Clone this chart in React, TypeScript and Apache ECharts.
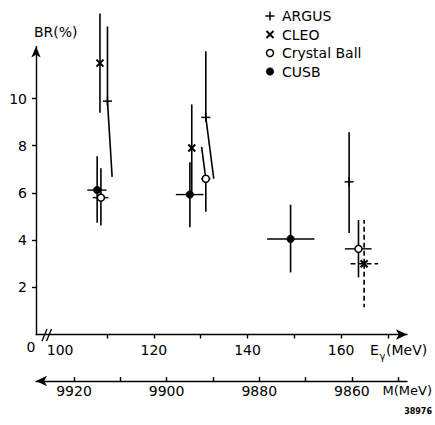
import React, { useEffect, useRef } from 'react';
import * as echarts from 'echarts';

const FONT = '"DejaVu Sans", "Liberation Sans", sans-serif';

// ---- axes ----
const eMin = 94.84;
const eMax = 174.06;
const eTickValues = [110, 120, 130, 140, 150, 160, 170];
const eLabelValues = [100, 120, 140, 160];
const mMin = 9848.1;
const mMax = 9928.2;
const mTickValues = [9920, 9910, 9900, 9890, 9880, 9870, 9860, 9850];
const mLabelValues = [9920, 9900, 9880, 9860];
const brMax = 12.2;
const brTickValues = [2, 4, 6, 8, 10];

// ---- ARGUS (+) ----
const argusE = [110.1, 131.1, 161.7];
const argusBR = [9.89, 9.2, 6.47];
const argusHi = [13.05, 12.0, 8.57];
const argusLo = [6.68, 6.6, 4.3];
const argusLoE = [111.1, 132.8, 161.7];

// ---- CLEO (x) ----
const cleoE = [108.5, 128.1, 164.9];
const cleoBR = [11.5, 7.9, 3.0];
const cleoHi = [13.6, 9.75, 4.85];
const cleoLo = [9.4, 6.05, 1.15];
const cleoXLo = [NaN, NaN, 162.0];
const cleoXHi = [NaN, NaN, 167.9];

// ---- Crystal Ball (o) ----
const cbE = [108.7, 131.1, 163.7];
const cbBR = [5.8, 6.6, 3.63];
const cbHi = [7.05, 7.95, 4.85];
const cbHiE = [108.7, 130.2, 163.7];
const cbLo = [4.62, 5.2, 2.42];
const cbXLo = [106.95, 130.1, 160.8];
const cbXHi = [110.3, 132.1, 166.5];

// ---- CUSB (filled) ----
const cusbE = [107.9, 127.7, 149.2];
const cusbBR = [6.12, 5.93, 4.05];
const cusbHi = [7.55, 7.3, 5.5];
const cusbLo = [4.74, 4.55, 2.63];
const cusbXLo = [105.8, 124.7, 144.2];
const cusbXHi = [109.9, 130.6, 154.3];

const legendNames = ['ARGUS', 'CLEO', 'Crystal Ball', 'CUSB'];

function buildRows(
  E: number[], BR: number[], lo: number[], hi: number[],
  loE?: number[], hiE?: number[], xlo?: number[], xhi?: number[]
) {
  return E.map((e, i) => [
    e, BR[i], lo[i], hi[i],
    loE ? loE[i] : e,
    hiE ? hiE[i] : e,
    xlo ? xlo[i] : NaN,
    xhi ? xhi[i] : NaN,
  ]);
}

function marker(kind: string, x: number, y: number): any[] {
  const st = { stroke: '#000', lineWidth: 1.5 };
  if (kind === 'plus') {
    return [
      { type: 'line', shape: { x1: x - 4.5, y1: y, x2: x + 4.5, y2: y }, style: st },
      { type: 'line', shape: { x1: x, y1: y - 4.5, x2: x, y2: y + 4.5 }, style: st },
    ];
  }
  if (kind === 'cross') {
    const s = { stroke: '#000', lineWidth: 2 };
    return [
      { type: 'line', shape: { x1: x - 3.5, y1: y - 3.5, x2: x + 3.5, y2: y + 3.5 }, style: s },
      { type: 'line', shape: { x1: x - 3.5, y1: y + 3.5, x2: x + 3.5, y2: y - 3.5 }, style: s },
    ];
  }
  if (kind === 'open') {
    return [{ type: 'circle', shape: { cx: x, cy: y, r: 3.5 }, style: { fill: '#fff', stroke: '#000', lineWidth: 1.5 } }];
  }
  return [{ type: 'circle', shape: { cx: x, cy: y, r: 3.8 }, style: { fill: '#000', stroke: '#000', lineWidth: 0.5 } }];
}

function makeRender(kind: string, dashedIdx: number[]) {
  return (params: any, api: any) => {
    const e = api.value(0);
    const br = api.value(1);
    const lo = api.value(2);
    const hi = api.value(3);
    const loE = api.value(4);
    const hiE = api.value(5);
    const xlo = api.value(6);
    const xhi = api.value(7);
    const p = api.coord([e, br]);
    const pt = api.coord([hiE, hi]);
    const pb = api.coord([loE, lo]);
    const dashed = dashedIdx.indexOf(params.dataIndex) >= 0;
    const ls: any = { stroke: '#000', lineWidth: 1.6 };
    if (dashed) ls.lineDash = [5, 3];
    const children: any[] = [
      { type: 'line', shape: { x1: p[0], y1: p[1], x2: pt[0], y2: pt[1] }, style: ls },
      { type: 'line', shape: { x1: p[0], y1: p[1], x2: pb[0], y2: pb[1] }, style: ls },
    ];
    if (isFinite(xlo) && isFinite(xhi)) {
      const a = api.coord([xlo, br]);
      const b = api.coord([xhi, br]);
      const hs: any = { stroke: '#000', lineWidth: 1.4 };
      if (dashed) hs.lineDash = [5, 3];
      children.push({ type: 'line', shape: { x1: a[0], y1: a[1], x2: b[0], y2: b[1] }, style: hs });
    }
    children.push(...marker(kind, p[0], p[1]));
    return { type: 'group', children };
  };
}

const DIMS = ['E', 'BR', 'lo', 'hi', 'loE', 'hiE', 'xlo', 'xhi'];

function customSeries(name: string, kind: string, data: any[], dashedIdx: number[] = []) {
  return {
    type: 'custom',
    name,
    dimensions: DIMS,
    encode: { x: 0, y: 1 },
    clip: false,
    renderItem: makeRender(kind, dashedIdx),
    data,
  };
}

function txt(text: string, x: number, y: number, size: number, align = 'left', extra: any = {}) {
  return {
    type: 'text',
    x,
    y,
    style: {
      text,
      fontSize: size,
      fontFamily: FONT,
      fill: '#000',
      align,
      verticalAlign: 'middle',
      ...extra,
    },
  };
}

export default function App() {
  const ref = useRef<HTMLDivElement>(null);
  useEffect(() => {
    if (!ref.current) return;
    const chart = echarts.init(ref.current, null, { renderer: 'svg' });
    const axisLineStyle = { color: '#000', width: 1.4 };
    const legendKinds = ['plus', 'cross', 'open', 'filled'];
    const legendY = [16, 34.5, 53, 71.5];
    const legendGraphics: any[] = [];
    legendNames.forEach((n, i) => {
      legendGraphics.push(...marker(legendKinds[i], 270, legendY[i]));
      legendGraphics.push(txt(n, 282, legendY[i], 14));
    });

    const option: any = {
      animation: false,
      backgroundColor: '#fff',
      textStyle: { fontFamily: FONT, color: '#000' },
      grid: { left: 36, right: 28, top: 46.6, bottom: 90.5, containLabel: false, outerBoundsMode: 'none' },
      xAxis: [
        {
          type: 'value',
          min: eMin,
          max: eMax,
          position: 'bottom',
          axisLine: { show: true, onZero: false, lineStyle: axisLineStyle, symbol: ['none', 'arrow'], symbolSize: [8, 11] },
          axisTick: { show: true, customValues: eTickValues, length: 4, lineStyle: { color: '#000', width: 1.4 } },
          axisLabel: {
            show: true,
            customValues: eLabelValues,
            margin: 8,
            fontSize: 14,
            fontFamily: FONT,
            color: '#000',
          },
          splitLine: { show: false },
        },
        {
          type: 'value',
          min: -mMax,
          max: -mMin,
          position: 'bottom',
          offset: 46.5,
          axisLine: { show: true, onZero: false, lineStyle: axisLineStyle, symbol: ['arrow', 'none'], symbolSize: [8, 11] },
          axisTick: { show: true, customValues: mTickValues.map((v) => -v), length: 4, inside: true, lineStyle: { color: '#000', width: 1.4 } },
          axisLabel: {
            show: true,
            customValues: mLabelValues.map((v) => -v),
            formatter: (v: number) => String(-v),
            margin: 3,
            fontSize: 14,
            fontFamily: FONT,
            color: '#000',
          },
          splitLine: { show: false },
        },
      ],
      yAxis: {
        type: 'value',
        min: 0,
        max: brMax,
        axisLine: { show: true, onZero: false, lineStyle: axisLineStyle, symbol: ['none', 'arrow'], symbolSize: [7, 11] },
        axisTick: { show: true, customValues: brTickValues, length: 4, lineStyle: { color: '#000', width: 1.4 } },
        axisLabel: {
          show: true,
          customValues: brTickValues,
          margin: 9,
          fontSize: 14,
          fontFamily: FONT,
          color: '#000',
        },
        splitLine: { show: false },
      },
      series: [
        customSeries('ARGUS', 'plus', buildRows(argusE, argusBR, argusLo, argusHi, argusLoE)),
        customSeries('CLEO', 'cross', buildRows(cleoE, cleoBR, cleoLo, cleoHi, undefined, undefined, cleoXLo, cleoXHi), [2]),
        customSeries('Crystal Ball', 'open', buildRows(cbE, cbBR, cbLo, cbHi, undefined, cbHiE, cbXLo, cbXHi)),
        customSeries('CUSB', 'filled', buildRows(cusbE, cusbBR, cusbLo, cusbHi, undefined, undefined, cusbXLo, cusbXHi)),
      ],
      graphic: [
        txt('BR(%)', 34, 32, 14),
        txt('0', 31, 347, 14, 'center'),
        { type: 'rect', shape: { x: 44.5, y: 332, width: 4, height: 5 }, style: { fill: '#fff' } },
        { type: 'line', shape: { x1: 42, y1: 341, x2: 47, y2: 329 }, style: { stroke: '#000', lineWidth: 1.3 } },
        { type: 'line', shape: { x1: 46.5, y1: 341, x2: 51.5, y2: 329 }, style: { stroke: '#000', lineWidth: 1.3 } },
        txt('E', 370, 350, 14),
        txt('γ', 379.5, 356, 10),
        txt('(MeV)', 386, 350, 14),
        txt('M(MeV)', 432, 390, 13, 'right'),
        txt('38976', 432, 411, 8, 'right', { fontWeight: 'bold' }),
        ...legendGraphics,
      ],
    };
    chart.setOption(option);
    return () => chart.dispose();
  }, []);
  return <div ref={ref} style={{ position: 'absolute', left: 0, top: 0, width: 435, height: 425 }} />;
}
